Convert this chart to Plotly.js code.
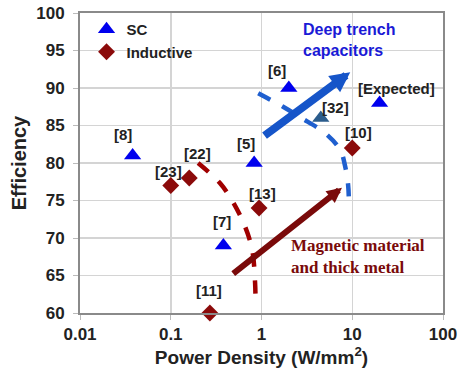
<!DOCTYPE html>
<html><head><meta charset="utf-8">
<script src="https://cdn.plot.ly/plotly-3.0.1.min.js"></script>
<style>html,body{margin:0;padding:0;background:#fff;}#chart{width:460px;height:382px;}</style>
</head><body><div id="chart"></div>
<script>
// SC (switched-capacitor) points
const scLabels = ['[8]', '[5]', '[7]', '[6]', '[Expected]'];
const scX = [0.038, 0.83, 0.38, 2.0, 20];
const scY = [81, 80, 69, 90, 88];
// highlighted SC point [32]
const sc32Label = ['[32]'];
const sc32X = [4.5];
const sc32Y = [86];
// Inductive points
const indLabels = ['[23]', '[22]', '[13]', '[11]', '[10]'];
const indX = [0.1, 0.16, 0.94, 0.27, 10];
const indY = [77, 78, 74, 60, 82];
// dashed boundary curves
const indCurveX = [0.2, 0.35, 0.49, 0.66, 0.79, 0.85, 0.86];
const indCurveY = [80, 77.3, 74.7, 71.5, 68.4, 64, 61];
const scCurveX = [0.92, 1.73, 2.67, 5.0, 7.4, 8.3, 9.0, 9.2];
const scCurveY = [89.3, 87.5, 86.1, 84, 81.7, 79.7, 77.1, 74.2];
// trend arrows [tailX, tailY, tipX, tipY]
const scArrow = [1.04, 83.5, 9.5, 92.1];
const indArrow = [0.47, 65.1, 7.7, 76.7];
// tick values
const xTicks = [0.01, 0.1, 1, 10, 100];
const xTickText = ['0.01', '0.1', '1', '10', '100'];
const yTicks = [60, 65, 70, 75, 80, 85, 90, 95, 100];

// label offsets in px (placement only)
const scOff = [[-10, 21], [-8, 20], [-1, 24], [-12, 18], [17, 15]];
const sc32Off = [[15, 11]];
const indOff = [[-2, 14], [8, 25], [3, 15], [-1, 23], [6, 16]];

const lblFont = {family: 'Liberation Sans, Arial, sans-serif', size: 15, color: '#222', weight: 'bold'};
const annotations = [];
function addLabels(labels, xs, ys, offs) {
  labels.forEach((t, i) => annotations.push({
    x: Math.log10(xs[i]), y: ys[i], xref: 'x', yref: 'y', text: t, showarrow: false,
    xshift: offs[i][0], yshift: offs[i][1], font: lblFont, xanchor: 'center', yanchor: 'middle'
  }));
}
addLabels(scLabels, scX, scY, scOff);
addLabels(sc32Label, sc32X, sc32Y, sc32Off);
addLabels(indLabels, indX, indY, indOff);

function addArrow(a, color, width) {
  annotations.push({
    x: Math.log10(a[2]), y: a[3], ax: Math.log10(a[0]), ay: a[1],
    xref: 'x', yref: 'y', axref: 'x', ayref: 'y', text: '', showarrow: true,
    arrowhead: 2, arrowsize: 0.5, arrowwidth: width, arrowcolor: color, standoff: 0
  });
}
addArrow(scArrow, '#1655c9', 8);
addArrow(indArrow, '#7a0a0a', 6);

annotations.push({
  x: 0.437, y: 96.4, xref: 'x', yref: 'y', text: 'Deep trench<br>capacitors', showarrow: false,
  xanchor: 'left', yanchor: 'middle', align: 'left',
  font: {family: 'Liberation Sans, Arial, sans-serif', size: 16, color: '#1a1ad6', weight: 'bold'}
});
annotations.push({
  x: 0.304, y: 67.5, xref: 'x', yref: 'y', text: 'Magnetic material<br>and thick metal', showarrow: false,
  xanchor: 'left', yanchor: 'middle', align: 'left',
  font: {family: 'Liberation Serif, DejaVu Serif, serif', size: 17, color: '#7a0a0a', weight: 'bold'}
});

const traces = [
  {x: indCurveX, y: indCurveY, mode: 'lines', line: {color: '#a00000', width: 4.5, dash: 'dash', shape: 'spline'}, showlegend: false, hoverinfo: 'skip'},
  {x: scCurveX, y: scCurveY, mode: 'lines', line: {color: '#1f5fcf', width: 4.5, dash: 'dash', shape: 'spline'}, showlegend: false, hoverinfo: 'skip'},
  {x: scX, y: scY, name: 'SC', mode: 'markers', marker: {symbol: 'triangle-up', size: 15, color: '#0000ee'}, cliponaxis: false},
  {x: indX, y: indY, name: 'Inductive', mode: 'markers', marker: {symbol: 'diamond', size: 13, color: '#8b0a0a'}, cliponaxis: false},
  {x: sc32X, y: sc32Y, name: '[32]', mode: 'markers', marker: {symbol: 'triangle-up', size: 15, color: '#2b5c8c'}, showlegend: false}
];

const axisFont = {family: 'Liberation Sans, Arial, sans-serif', size: 17, color: '#222', weight: 'bold'};
const titleFont = {family: 'Liberation Sans, Arial, sans-serif', size: 19, color: '#222', weight: 'bold'};
const layout = {
  width: 460, height: 382,
  margin: {l: 80, r: 17, t: 13, b: 69},
  paper_bgcolor: '#fff', plot_bgcolor: '#fff',
  showlegend: true,
  legend: {x: 0.018, y: 1.0, xanchor: 'left', yanchor: 'top', bgcolor: 'rgba(0,0,0,0)',
    font: {family: 'Liberation Sans, Arial, sans-serif', size: 15, color: '#222', weight: 'bold'},
    tracegroupgap: 0, itemwidth: 30},
  xaxis: {type: 'log', range: [-2, 2], tickvals: xTicks, ticktext: xTickText,
    showgrid: true, gridcolor: '#d4d4d4', gridwidth: 1.5, zeroline: false,
    showline: true, linecolor: '#8a8a8a', linewidth: 2, mirror: true,
    ticks: 'outside', ticklen: 5, tickcolor: '#bbb', tickfont: axisFont,
    title: {text: 'Power Density (W/mm<sup>2</sup>)', font: titleFont, standoff: 6}},
  yaxis: {range: [60, 100], tickvals: yTicks,
    showgrid: true, gridcolor: '#d4d4d4', gridwidth: 1.5, zeroline: false,
    showline: true, linecolor: '#8a8a8a', linewidth: 2, mirror: true,
    ticks: 'outside', ticklen: 5, tickcolor: '#bbb', tickfont: axisFont, ticklabelstandoff: 5,
    title: {text: 'Efficiency', font: {family: 'Liberation Sans, Arial, sans-serif', size: 20, color: '#222', weight: 'bold'}, standoff: 4}},
  annotations: annotations
};
Plotly.newPlot('chart', traces, layout, {displayModeBar: false, staticPlot: true});
</script>
</body></html>
